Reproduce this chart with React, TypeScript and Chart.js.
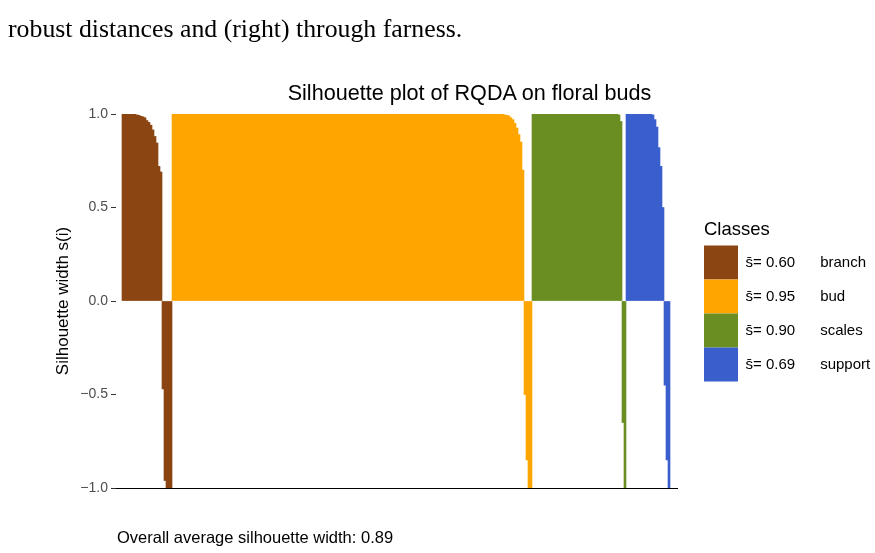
import React, { useEffect, useRef } from "react";
import { Chart, registerables } from "chart.js";

Chart.register(...registerables);

// ---------- data ----------
const classNames = ["branch", "bud", "scales", "support"];
const classMeans = ["0.60", "0.95", "0.90", "0.69"];
const classColors = ["#8B4513", "#FFA500", "#6B8E23", "#3A5FCD"];

// silhouette widths, sorted within each class
const branchSil = [
  1.0, 1.0, 1.0, 1.0, 1.0, 1.0, 0.998, 0.995, 0.993, 0.988,
  0.985, 0.98, 0.965, 0.955, 0.94, 0.915, 0.88, 0.845, 0.72, 0.69,
  -0.47, -0.96, -1.0, -1.0, -1.0,
];

const budSil = [
  1, 1, 1, 1, 1, 1, 1, 1, 1, 1, 1, 1, 1, 1, 1, 1, 1, 1, 1, 1,
  1, 1, 1, 1, 1, 1, 1, 1, 1, 1, 1, 1, 1, 1, 1, 1, 1, 1, 1, 1,
  1, 1, 1, 1, 1, 1, 1, 1, 1, 1, 1, 1, 1, 1, 1, 1, 1, 1, 1, 1,
  1, 1, 1, 1, 1, 1, 1, 1, 1, 1, 1, 1, 1, 1, 1, 1, 1, 1, 1, 1,
  1, 1, 1, 1, 1, 1, 1, 1, 1, 1, 1, 1, 1, 1, 1, 1, 1, 1, 1, 1,
  1, 1, 1, 1, 1, 1, 1, 1, 1, 1, 1, 1, 1, 1, 1, 1, 1, 1, 1, 1,
  1, 1, 1, 1, 1, 1, 1, 1, 1, 1, 1, 1, 1, 1, 1, 1, 1, 1, 1, 1,
  1, 1, 1, 1, 1, 1, 1, 1, 1, 1, 1, 1, 1, 1, 1, 1, 1, 1, 1, 1,
  1, 1, 1, 1,
  1.0, 0.998, 0.995, 0.993, 0.99, 0.98, 0.97, 0.95, 0.925, 0.89, 0.85, 0.70,
  -0.5, -0.85, -1.0, -1.0,
];

const scalesSil = [
  1, 1, 1, 1, 1, 1, 1, 1, 1, 1, 1, 1, 1, 1, 1, 1, 1, 1, 1, 1,
  1, 1, 1, 1, 1, 1, 1, 1, 1, 1, 1, 1, 1, 1, 1, 1, 1, 1, 1, 1,
  1, 1, 1,
  0.995, 0.96,
  -0.65, -1.0,
];

const supportSil = [
  1, 1, 1, 1, 1, 1, 1, 1, 1, 1, 1, 1, 1,
  0.995, 0.97, 0.93, 0.82, 0.72, 0.5,
  -0.45, -0.85, -1.0,
];

const yTickValues = [-1, -0.5, 0, 0.5, 1];
const yTickLabels = ["\u22121.0", "\u22120.5", "0.0", "0.5", "1.0"];

const chartTitle = "Silhouette plot of RQDA on floral buds";
const yAxisTitle = "Silhouette width s(i)";
const legendTitle = "Classes";
const captionText = "Overall average silhouette width: 0.89";
const paperText = "robust distances and (right) through farness.";

// ---------- styles ----------
const sansFamily = "'Liberation Sans', Arial, Helvetica, sans-serif";
const serifFamily = "'Liberation Serif', 'Times New Roman', serif";
const W = 875;
const H = 553;

export default function App() {
  const ref = useRef<HTMLCanvasElement | null>(null);

  useEffect(() => {
    const canvas = ref.current;
    if (!canvas) return;

    const series = [branchSil, budSil, scalesSil, supportSil];
    let offset = 0;
    const datasets = series.map((vals, k) => {
      const data = vals.map((v, i) => ({ x: offset + i, y: v }));
      offset += vals.length;
      return {
        label: classNames[k],
        data,
        backgroundColor: classColors[k],
        borderWidth: 0,
        grouped: false,
        barPercentage: 1,
        categoryPercentage: 1,
      };
    });
    const N = offset;

    const legendFontSize = 15;
    const legendBox = 34;
    const legendTexts = classNames.map(
      (n, k) => `s\u0304= ${classMeans[k]}      ${n}`
    );
    const mctx = document.createElement("canvas").getContext("2d")!;
    mctx.font = `normal ${legendFontSize}px ${sansFamily}`;
    const maxText = Math.max(...legendTexts.map((t) => mctx.measureText(t).width));
    const legendW = legendBox + legendFontSize / 2 + maxText + 10;
    const legendLeft = 704;
    const plotLeft = 116;
    const plotRight = 677;
    const plotTop = 114;
    const plotBottom = 488;
    const legendRoom = W - legendLeft;
    const padRight = Math.max(0, legendRoom - legendW);

    const chart = new Chart(canvas, {
      type: "bar",
      data: { datasets: datasets as any },
      options: {
        responsive: false,
        animation: false,
        events: [],
        layout: {
          padding: { top: plotTop, bottom: H - plotBottom, left: 0, right: padRight },
        },
        scales: {
          x: {
            type: "linear",
            offset: false,
            min: -3.5,
            max: N + 3,
            grid: { display: false },
            ticks: { display: false },
            border: { display: true, color: "#000000", width: 1 },
            afterFit: (s: any) => {
              s.height = 0;
            },
          },
          y: {
            type: "linear",
            min: -1,
            max: 1,
            afterBuildTicks: (s: any) => {
              s.ticks = yTickValues.map((v) => ({ value: v }));
            },
            ticks: {
              callback: (_v: any, i: number) => yTickLabels[i],
              color: "#4D4D4D",
              font: { size: 14, family: sansFamily },
              padding: 3,
            },
            grid: {
              display: true,
              drawOnChartArea: false,
              drawTicks: true,
              tickLength: 5,
              color: "#333333",
              lineWidth: 1,
            },
            border: { display: false },
            title: {
              display: true,
              text: yAxisTitle,
              color: "#000000",
              font: { size: 17, family: sansFamily },
              padding: { top: 63 - 10.2, bottom: 0 },
            },
            afterFit: (s: any) => {
              s.width = plotLeft;
            },
          },
          y2: {
            type: "linear",
            position: "right",
            display: true,
            grid: { display: false },
            ticks: { display: false },
            border: { display: false },
            afterFit: (s: any) => {
              s.width = legendLeft - plotRight;
            },
          },
        },
        plugins: {
          title: { display: false },
          tooltip: { enabled: false },
          legend: {
            display: true,
            position: "right",
            align: "center",
            fullSize: false,
            maxWidth: legendRoom,
            title: {
              display: true,
              text: legendTitle,
              color: "#000000",
              position: "start",
              font: { size: 18.5, family: sansFamily },
              padding: { top: 0, bottom: 3 },
            },
            labels: {
              boxWidth: legendBox,
              boxHeight: legendBox,
              padding: 0,
              color: "#000000",
              font: { size: legendFontSize, family: sansFamily },
              generateLabels: () =>
                classNames.map((n, k) => ({
                  text: legendTexts[k],
                  fillStyle: classColors[k],
                  strokeStyle: classColors[k],
                  lineWidth: 0,
                  hidden: false,
                  datasetIndex: k,
                  fontColor: "#000000",
                })),
            },
          },
        },
      } as any,
    });

    return () => {
      chart.destroy();
    };
  }, []);

  return (
    <div
      style={{
        position: "absolute",
        left: 0,
        top: 0,
        width: W,
        height: H,
        background: "#ffffff",
        overflow: "hidden",
      }}
    >
      <canvas ref={ref} width={W} height={H} style={{ position: "absolute", left: 0, top: 0 }} />
      <div
        style={{
          position: "absolute",
          left: 8,
          top: 15.6,
          fontFamily: serifFamily,
          fontSize: 25.8,
          lineHeight: 1,
          whiteSpace: "nowrap",
          color: "#000",
        }}
      >
        {paperText}
      </div>
      <div
        style={{
          position: "absolute",
          left: 469.5 - 300,
          width: 600,
          top: 82.2,
          textAlign: "center",
          fontFamily: sansFamily,
          fontSize: 21.6,
          lineHeight: 1,
          whiteSpace: "nowrap",
          color: "#000",
        }}
      >
        {chartTitle}
      </div>
      <div
        style={{
          position: "absolute",
          left: 117,
          top: 529,
          fontFamily: sansFamily,
          fontSize: 16.5,
          lineHeight: 1,
          whiteSpace: "nowrap",
          color: "#000",
        }}
      >
        {captionText}
      </div>
    </div>
  );
}
